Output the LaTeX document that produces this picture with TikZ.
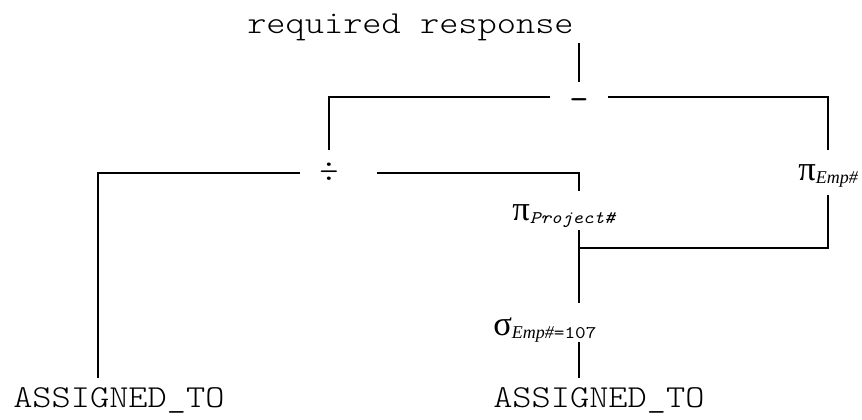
\documentclass[tikz,border=0pt]{standalone}
\usepackage{fontspec}
\setmainfont{Liberation Serif}
\setmonofont{lmmonolt10-regular.otf}[FakeStretch=1.1429, ItalicFont=lmmonolt10-oblique.otf]
\newfontfamily\subfont{lmmono10-regular.otf}[FakeStretch=1.1429, ItalicFont=lmmono10-italic.otf]

% subscripts of the operators
\newcommand{\lowsub}[1]{\raisebox{-2.6pt}{#1}}
\newcommand{\subtt}{\fontsize{13.3}{15}\selectfont\subfont}
\newcommand{\subit}{\fontsize{13.5}{15}\selectfont\itshape}

\tikzset{
  rel/.style={font=\fontsize{24}{28}\selectfont\ttfamily, inner sep=0pt},
  op/.style={rel, anchor=center},
  greek/.style={font=\fontsize{26}{30}\selectfont, inner sep=0pt, anchor=base west},
  tree/.style={line width=1.9pt},
}

\begin{document}
\begin{tikzpicture}[x=0.75pt,y=-0.75pt]
  \useasboundingbox (0,0) rectangle (862,419);

  % relations
  \node[rel, anchor=base west, text depth=7.5pt] (resp) at (247,33) {required response};
  \node[rel, anchor=base west, text height=21.75pt] (at1) at (13,407) {ASSIGNED\_TO};
  \node[rel, anchor=base west, text height=21.75pt] (at2) at (493,407) {ASSIGNED\_TO};

  % operators
  \node[op, font=\fontsize{24}{28}\selectfont\subfont, text height=20.5pt, text depth=2pt] (minus) at (579,97) {-};
  \node[op, text height=23.7pt, text depth=10.8pt] (div) at (329,173) {÷};
  \node[greek, text height=22.5pt, text depth=11.25pt] (piemp) at (798,180)
    {π\lowsub{\subit Emp\#}};
  \node[greek, text height=21.75pt, text depth=7.5pt] (piproj) at (512,220)
    {π\lowsub{\subtt\itshape Project\#}};
  \node[greek, text height=24pt, text depth=5.25pt] (sel) at (493,335)
    {σ\lowsub{\subit Emp\#}\lowsub{\subtt =107}};

  % corners of the tree
  \coordinate (lft) at (98,173);
  \coordinate (rgt) at (579,173);
  \coordinate (join) at (579,248);

  % branches
  \draw[tree] (resp.south -| minus) -- (minus.north);
  \draw[tree, shorten <=14.4pt] (minus.west) -| (div.north);
  \draw[tree, shorten <=14.4pt] (minus.east) -| (piemp.north);
  \draw[tree, shorten <=14.4pt] (div.west) -- (lft) -- (lft |- at1.north);
  \draw[tree, shorten <=28.8pt] (div.east) -- (rgt) -- (rgt |- piproj.north);
  \draw[tree] (rgt |- piproj.south) -- (rgt |- sel.north);
  \draw[tree] (piemp.south) |- (join);
  \draw[tree] (rgt |- sel.south) -- (rgt |- at2.north);
\end{tikzpicture}
\end{document}
